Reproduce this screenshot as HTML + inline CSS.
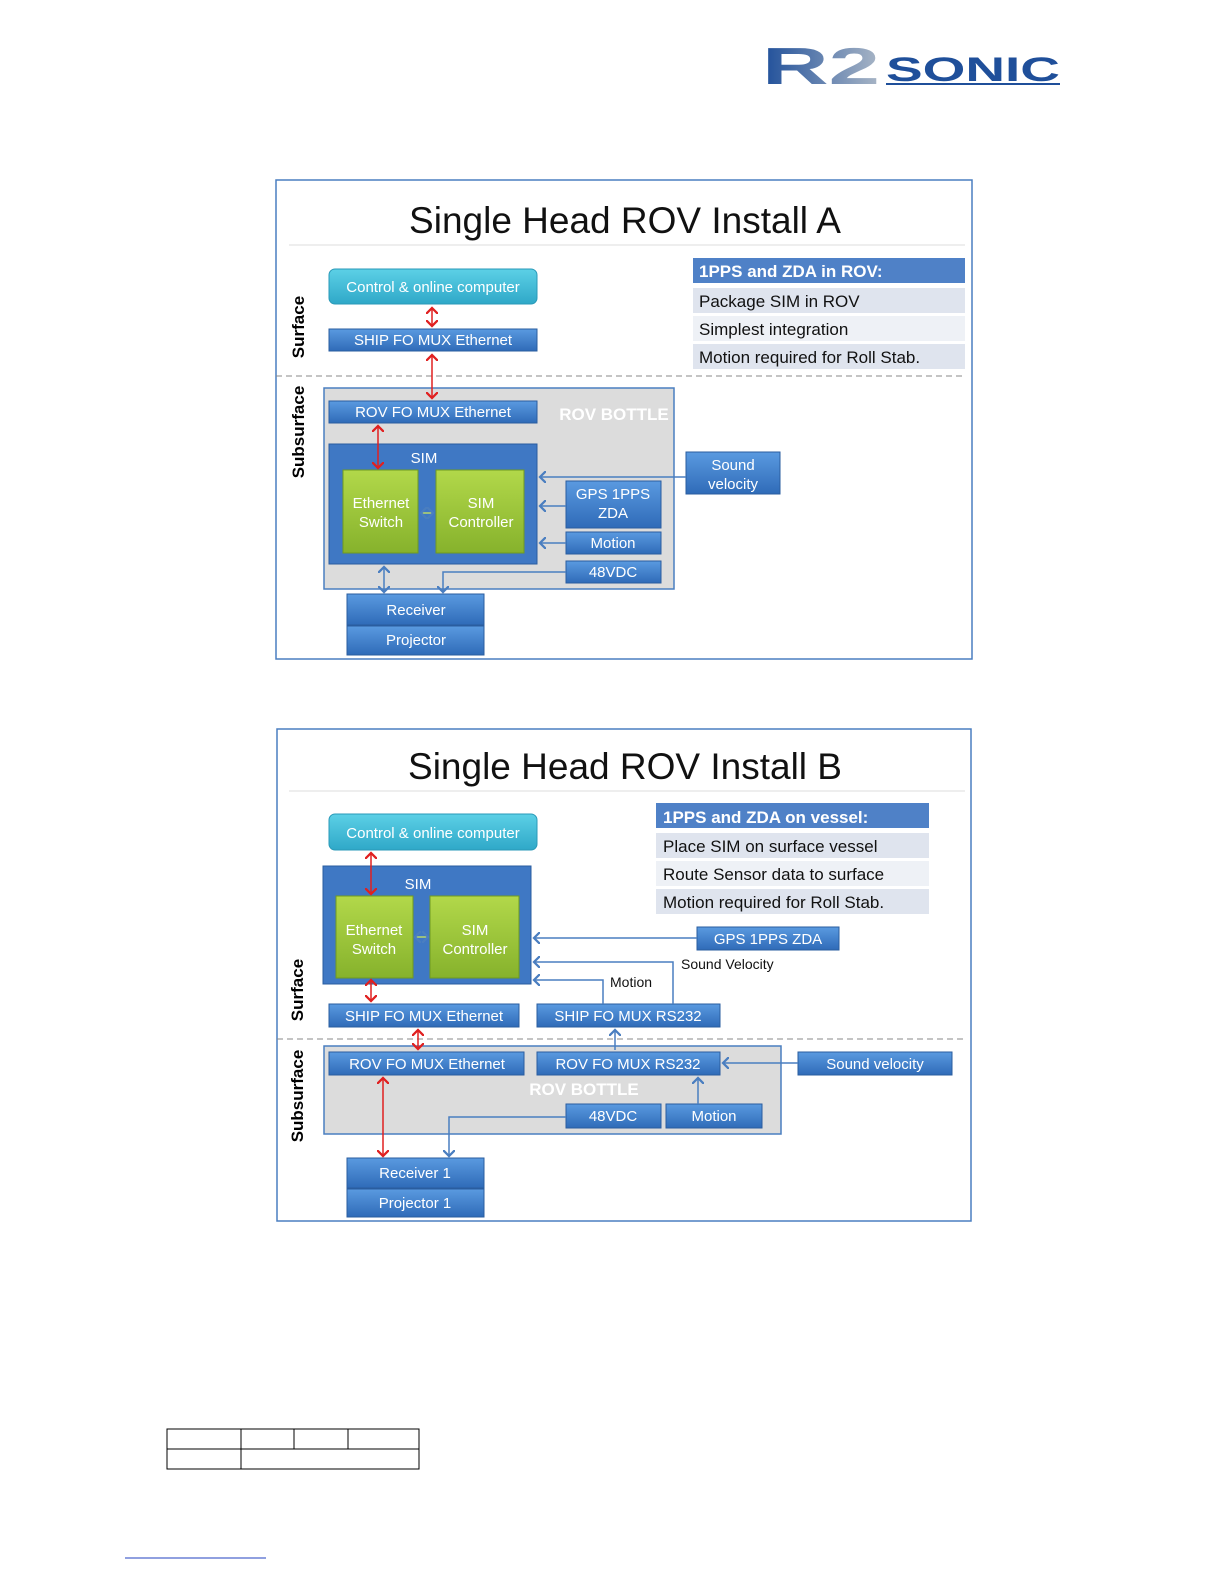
<!DOCTYPE html>
<html><head><meta charset="utf-8"><style>
html,body{margin:0;padding:0;width:1224px;height:1584px;overflow:hidden;background:#fff}
svg{display:block;font-family:"Liberation Sans",sans-serif}
.bt{fill:#fff;font-size:15px;text-anchor:middle}
.tb{font-size:17px;fill:#111}
</style></head><body>
<svg width="1224" height="1584" viewBox="0 0 1224 1584" xmlns="http://www.w3.org/2000/svg">
<defs>
<linearGradient id="bl" x1="0" y1="0" x2="0" y2="1"><stop offset="0" stop-color="#5a9ae0"/><stop offset="1" stop-color="#2f6bb8"/></linearGradient>
<linearGradient id="tl" x1="0" y1="0" x2="0" y2="1"><stop offset="0" stop-color="#5cd0e6"/><stop offset="1" stop-color="#2fa8c8"/></linearGradient>
<linearGradient id="gr" x1="0" y1="0" x2="0" y2="1"><stop offset="0" stop-color="#b2d84a"/><stop offset="1" stop-color="#86b22c"/></linearGradient>
<linearGradient id="lg" x1="0" y1="0" x2="1" y2="0"><stop offset="0" stop-color="#1f4f9a"/><stop offset="1" stop-color="#a9b6c6"/></linearGradient>
<marker id="ra" markerWidth="8" markerHeight="8" refX="4" refY="4" orient="auto-start-reverse"><path d="M0,0 L4,4 L0,8" fill="none" stroke="#e02020" stroke-width="1.5"/></marker>
<marker id="ba" markerWidth="8" markerHeight="8" refX="4" refY="4" orient="auto-start-reverse"><path d="M0,0 L4,4 L0,8" fill="none" stroke="#4a7ec0" stroke-width="1.5"/></marker>
</defs>
<!-- logo -->
<text x="762" y="84" font-size="52" font-weight="bold" fill="url(#lg)" textLength="118" lengthAdjust="spacingAndGlyphs">R2</text>
<text x="886" y="81" font-size="34" font-weight="bold" fill="#1f4f9a" textLength="174" lengthAdjust="spacingAndGlyphs">SONIC</text>
<line x1="886" y1="84" x2="1060" y2="84" stroke="#1f4f9a" stroke-width="2"/>

<!-- ===== Diagram A ===== -->
<rect x="276" y="180" width="696" height="479" fill="#fff" stroke="#4a7ec0" stroke-width="1.5"/>
<text x="625" y="233" font-size="37" text-anchor="middle" fill="#111">Single Head ROV Install A</text>
<line x1="289" y1="245" x2="965" y2="245" stroke="#ddd"/>
<line x1="276" y1="376" x2="965" y2="376" stroke="#888" stroke-dasharray="6,4"/>
<text transform="translate(304,327) rotate(-90)" font-size="17" font-weight="bold" text-anchor="middle">Surface</text>
<text transform="translate(304,432) rotate(-90)" font-size="17" font-weight="bold" text-anchor="middle">Subsurface</text>
<rect x="693" y="258" width="272" height="25" fill="#4f81c7"/>
<text x="699" y="277" font-size="17" font-weight="bold" fill="#fff">1PPS and ZDA in ROV:</text>
<rect x="693" y="288" width="272" height="25" fill="#dfe4ee"/><text x="699" y="307" class="tb">Package SIM in ROV</text>
<rect x="693" y="316" width="272" height="25" fill="#eef1f6"/><text x="699" y="335" class="tb">Simplest integration</text>
<rect x="693" y="344" width="272" height="25" fill="#dfe4ee"/><text x="699" y="363" class="tb">Motion required for Roll Stab.</text>
<rect x="324" y="388" width="350" height="201" fill="#dcdcdc" stroke="#4a7ec0" stroke-width="1.5"/>
<text x="614" y="420" font-size="17" font-weight="bold" fill="#fff" text-anchor="middle">ROV BOTTLE</text>
<rect x="329" y="269" width="208" height="35" rx="6" fill="url(#tl)" stroke="#2a9ab8"/>
<text x="433" y="292" class="bt">Control &amp; online computer</text>
<rect x="329" y="329" width="208" height="22" fill="url(#bl)" stroke="#2a5d9f"/><text x="433" y="345" class="bt">SHIP FO MUX Ethernet</text>
<rect x="329" y="401" width="208" height="22" fill="url(#bl)" stroke="#2a5d9f"/><text x="433" y="417" class="bt">ROV FO MUX Ethernet</text>
<rect x="329" y="444" width="208" height="120" fill="#3f78c4" stroke="#2a5d9f"/><text x="424" y="463" class="bt" font-size="18">SIM</text>
<rect x="343" y="470" width="75" height="83" fill="url(#gr)" stroke="#6f9a20"/><text x="381" y="508" class="bt">Ethernet</text><text x="381" y="527" class="bt">Switch</text>
<rect x="436" y="470" width="88" height="83" fill="url(#gr)" stroke="#6f9a20"/><text x="481" y="508" class="bt">SIM</text><text x="481" y="527" class="bt">Controller</text>
<rect x="686" y="452" width="94" height="42" fill="url(#bl)" stroke="#2a5d9f"/><text x="733" y="470" class="bt">Sound</text><text x="733" y="489" class="bt">velocity</text>
<rect x="566" y="481" width="95" height="47" fill="url(#bl)" stroke="#2a5d9f"/><text x="613" y="499" class="bt">GPS 1PPS</text><text x="613" y="518" class="bt">ZDA</text>
<rect x="566" y="532" width="95" height="22" fill="url(#bl)" stroke="#2a5d9f"/><text x="613" y="548" class="bt">Motion</text>
<rect x="566" y="561" width="95" height="22" fill="url(#bl)" stroke="#2a5d9f"/><text x="613" y="577" class="bt">48VDC</text>
<rect x="347" y="594" width="137" height="31" fill="url(#bl)" stroke="#2a5d9f"/><text x="416" y="615" class="bt">Receiver</text>
<rect x="347" y="626" width="137" height="29" fill="url(#bl)" stroke="#2a5d9f"/><text x="416" y="645" class="bt">Projector</text>
<g stroke="#e02020" stroke-width="1.5" fill="none">
<line x1="432" y1="308" x2="432" y2="326" marker-start="url(#ra)" marker-end="url(#ra)"/>
<line x1="432" y1="355" x2="432" y2="398" marker-start="url(#ra)" marker-end="url(#ra)"/>
<line x1="378" y1="426" x2="378" y2="468" marker-start="url(#ra)" marker-end="url(#ra)"/>
</g>
<g stroke="#4a7ec0" stroke-width="1.5" fill="none">
<line x1="686" y1="477" x2="540" y2="477" marker-end="url(#ba)"/>
<line x1="566" y1="506" x2="540" y2="506" marker-end="url(#ba)"/>
<line x1="566" y1="543" x2="540" y2="543" marker-end="url(#ba)"/>
<line x1="384" y1="567" x2="384" y2="592" marker-start="url(#ba)" marker-end="url(#ba)"/>
<polyline points="566,572 443,572 443,592" marker-end="url(#ba)"/>
<line x1="421" y1="513" x2="433" y2="513" stroke="#b8d86a" marker-start="url(#ba)" marker-end="url(#ba)"/>
</g>

<!-- ===== Diagram B ===== -->
<rect x="277" y="729" width="694" height="492" fill="#fff" stroke="#4a7ec0" stroke-width="1.5"/>
<text x="625" y="779" font-size="37" text-anchor="middle" fill="#111">Single Head ROV Install B</text>
<line x1="289" y1="791" x2="965" y2="791" stroke="#ddd"/>
<line x1="277" y1="1039" x2="965" y2="1039" stroke="#888" stroke-dasharray="6,4"/>
<text transform="translate(303,990) rotate(-90)" font-size="17" font-weight="bold" text-anchor="middle">Surface</text>
<text transform="translate(303,1096) rotate(-90)" font-size="17" font-weight="bold" text-anchor="middle">Subsurface</text>
<rect x="656" y="803" width="273" height="25" fill="#4f81c7"/>
<text x="663" y="823" font-size="17" font-weight="bold" fill="#fff">1PPS and ZDA on vessel:</text>
<rect x="656" y="833" width="273" height="25" fill="#dfe4ee"/><text x="663" y="852" class="tb">Place SIM on surface vessel</text>
<rect x="656" y="861" width="273" height="25" fill="#eef1f6"/><text x="663" y="880" class="tb">Route Sensor data to surface</text>
<rect x="656" y="889" width="273" height="25" fill="#dfe4ee"/><text x="663" y="908" class="tb">Motion required for Roll Stab.</text>
<rect x="324" y="1046" width="457" height="88" fill="#dcdcdc" stroke="#4a7ec0" stroke-width="1.5"/>
<text x="584" y="1095" font-size="17" font-weight="bold" fill="#fff" text-anchor="middle">ROV BOTTLE</text>
<rect x="329" y="814" width="208" height="36" rx="6" fill="url(#tl)" stroke="#2a9ab8"/><text x="433" y="838" class="bt">Control &amp; online computer</text>
<rect x="323" y="866" width="208" height="118" fill="#3f78c4" stroke="#2a5d9f"/><text x="418" y="889" class="bt" font-size="18">SIM</text>
<rect x="336" y="896" width="77" height="82" fill="url(#gr)" stroke="#6f9a20"/><text x="374" y="935" class="bt">Ethernet</text><text x="374" y="954" class="bt">Switch</text>
<rect x="430" y="896" width="89" height="82" fill="url(#gr)" stroke="#6f9a20"/><text x="475" y="935" class="bt">SIM</text><text x="475" y="954" class="bt">Controller</text>
<rect x="697" y="927" width="142" height="23" fill="url(#bl)" stroke="#2a5d9f"/><text x="768" y="944" class="bt">GPS 1PPS ZDA</text>
<text x="681" y="969" font-size="14" fill="#111">Sound Velocity</text>
<text x="610" y="987" font-size="14" fill="#111">Motion</text>
<rect x="329" y="1004" width="190" height="23" fill="url(#bl)" stroke="#2a5d9f"/><text x="424" y="1021" class="bt">SHIP FO MUX Ethernet</text>
<rect x="537" y="1004" width="183" height="23" fill="url(#bl)" stroke="#2a5d9f"/><text x="628" y="1021" class="bt">SHIP FO MUX RS232</text>
<rect x="329" y="1052" width="195" height="23" fill="url(#bl)" stroke="#2a5d9f"/><text x="427" y="1069" class="bt">ROV FO MUX Ethernet</text>
<rect x="537" y="1052" width="183" height="23" fill="url(#bl)" stroke="#2a5d9f"/><text x="628" y="1069" class="bt">ROV FO MUX RS232</text>
<rect x="798" y="1052" width="154" height="23" fill="url(#bl)" stroke="#2a5d9f"/><text x="875" y="1069" class="bt">Sound velocity</text>
<rect x="566" y="1104" width="95" height="24" fill="url(#bl)" stroke="#2a5d9f"/><text x="613" y="1121" class="bt">48VDC</text>
<rect x="666" y="1104" width="96" height="24" fill="url(#bl)" stroke="#2a5d9f"/><text x="714" y="1121" class="bt">Motion</text>
<rect x="347" y="1158" width="137" height="30" fill="url(#bl)" stroke="#2a5d9f"/><text x="415" y="1178" class="bt">Receiver 1</text>
<rect x="347" y="1189" width="137" height="28" fill="url(#bl)" stroke="#2a5d9f"/><text x="415" y="1208" class="bt">Projector 1</text>
<g stroke="#e02020" stroke-width="1.5" fill="none">
<line x1="371" y1="853" x2="371" y2="894" marker-start="url(#ra)" marker-end="url(#ra)"/>
<line x1="371" y1="980" x2="371" y2="1001" marker-start="url(#ra)" marker-end="url(#ra)"/>
<line x1="418" y1="1030" x2="418" y2="1049" marker-start="url(#ra)" marker-end="url(#ra)"/>
<line x1="383" y1="1078" x2="383" y2="1156" marker-start="url(#ra)" marker-end="url(#ra)"/>
</g>
<g stroke="#4a7ec0" stroke-width="1.5" fill="none">
<line x1="697" y1="938" x2="534" y2="938" marker-end="url(#ba)"/>
<polyline points="673,1004 673,962 534,962" marker-end="url(#ba)"/>
<polyline points="603,1004 603,980 534,980" marker-end="url(#ba)"/>
<line x1="615" y1="1030" x2="615" y2="1050" marker-start="url(#ba)"/>
<line x1="698" y1="1104" x2="698" y2="1078" marker-end="url(#ba)"/>
<line x1="798" y1="1063" x2="723" y2="1063" marker-end="url(#ba)"/>
<polyline points="566,1117 449,1117 449,1156" marker-end="url(#ba)"/>
<line x1="415" y1="937" x2="428" y2="937" stroke="#b8d86a" marker-start="url(#ba)" marker-end="url(#ba)"/>
</g>

<g stroke="#000" stroke-width="1" fill="none">
<rect x="167" y="1429" width="252" height="40"/>
<line x1="167" y1="1449" x2="419" y2="1449"/>
<line x1="241" y1="1429" x2="241" y2="1469"/>
<line x1="294" y1="1429" x2="294" y2="1449"/>
<line x1="348" y1="1429" x2="348" y2="1449"/>
</g>
<line x1="125" y1="1558" x2="266" y2="1558" stroke="#2040c0" stroke-width="1"/>
</svg>
</body></html>
